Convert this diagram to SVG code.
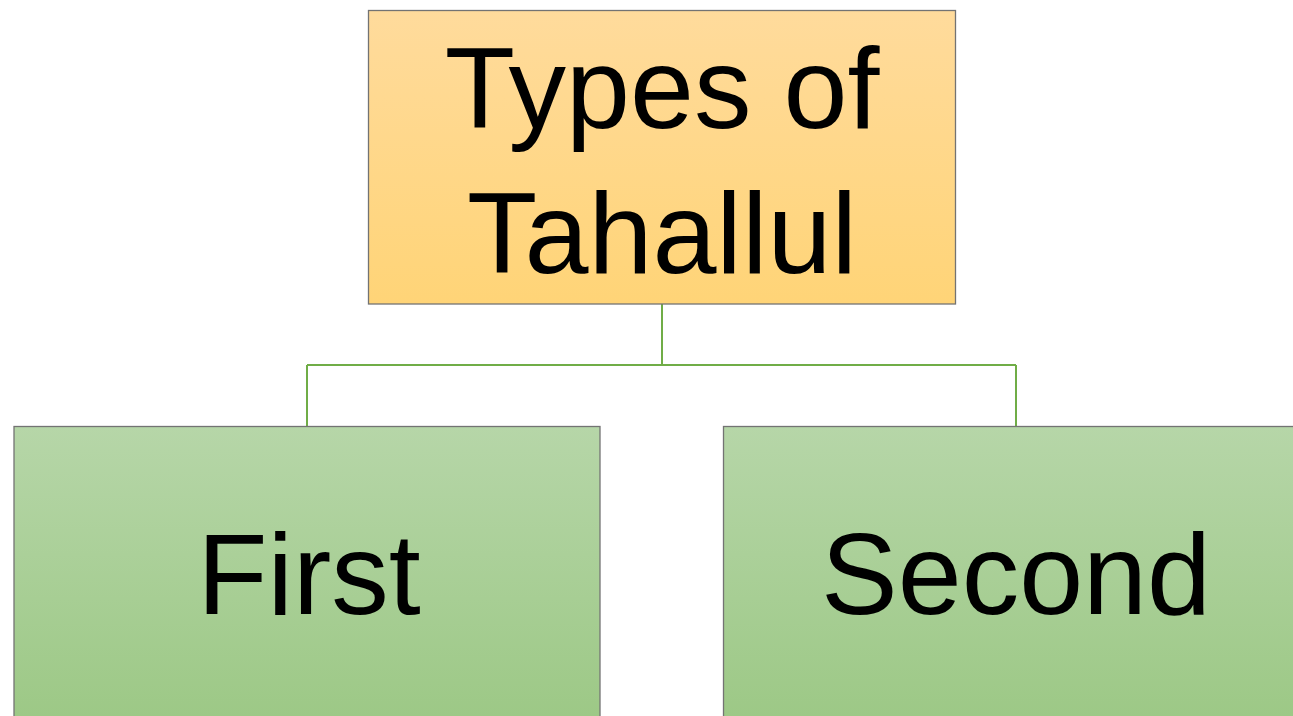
<svg xmlns="http://www.w3.org/2000/svg" width="1293" height="716" viewBox="0 0 1293 716">
<defs>
<linearGradient id="gOrange" x1="0" y1="0" x2="0" y2="1"><stop offset="0" stop-color="#FFDB9C"/><stop offset="1" stop-color="#FFD477"/></linearGradient>
<linearGradient id="gGreen" x1="0" y1="0" x2="0" y2="1"><stop offset="0" stop-color="#B6D6A8"/><stop offset="1" stop-color="#9CC885"/></linearGradient>
</defs>
<style>
.box{stroke:#737373;stroke-width:1.3}
.lbl{font-family:"Liberation Sans",Arial,sans-serif;font-size:115px;fill:#000;text-anchor:middle}
.conn{fill:none;stroke:#70AD47;stroke-width:2}
</style>
<rect width="1293" height="716" fill="#fff"/>
<g id="connectors">
<path class="conn" d="M662 304V365M307 365H1016M307 365V426M1016 365V426"/>
</g>
<g id="root">
<rect class="box" x="368.5" y="10.5" width="587" height="293.5" fill="url(#gOrange)"/>
<text class="lbl" x="662" y="128">Types of</text>
<text class="lbl" x="662" y="273">Tahallul</text>
</g>
<g id="first">
<rect class="box" x="14" y="426.5" width="586" height="300" fill="url(#gGreen)"/>
<text class="lbl" x="309" y="614">First</text>
</g>
<g id="second">
<rect class="box" x="723.5" y="426.5" width="586" height="300" fill="url(#gGreen)"/>
<text class="lbl" x="1016" y="614">Second</text>
</g>
</svg>
